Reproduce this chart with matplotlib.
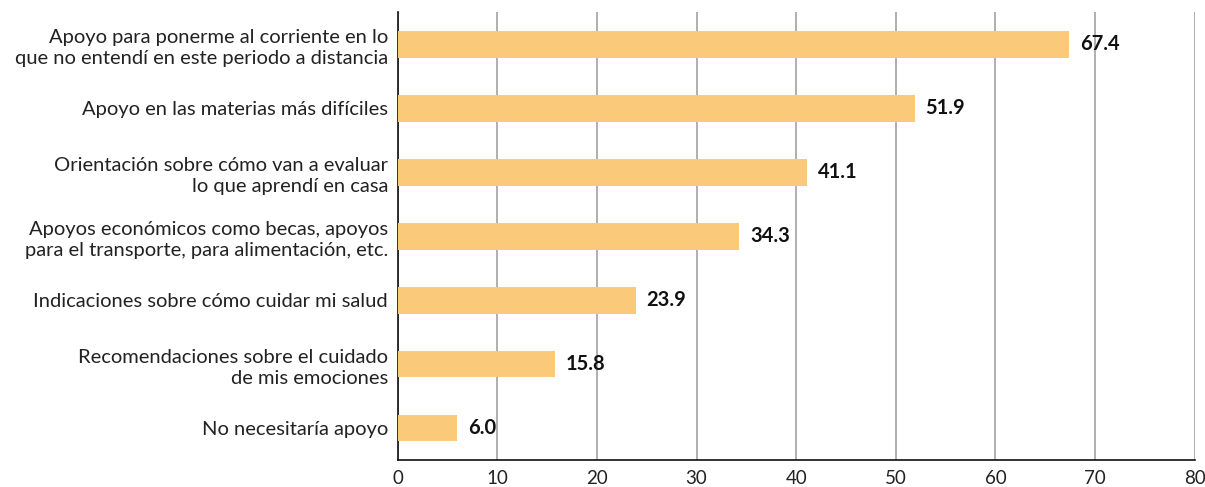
import matplotlib.pyplot as plt

categories = [
    "Apoyo para ponerme al corriente en lo\nque no entendí en este periodo a distancia",
    "Apoyo en las materias más difíciles",
    "Orientación sobre cómo van a evaluar\nlo que aprendí en casa",
    "Apoyos económicos como becas, apoyos\npara el transporte, para alimentación, etc.",
    "Indicaciones sobre cómo cuidar mi salud",
    "Recomendaciones sobre el cuidado\nde mis emociones",
    "No necesitaría apoyo",
]
values = [67.4, 51.9, 41.1, 34.3, 23.9, 15.8, 6.0]
xticks = [0, 10, 20, 30, 40, 50, 60, 70, 80]

plt.rcParams['font.family'] = ['Lato', 'DejaVu Sans']

fig = plt.figure(figsize=(12.05, 4.87), dpi=100)
ax = fig.add_axes([0.330, 0.0554, 0.6614, 0.9196])

ypos = list(range(len(categories)))
ax.barh(ypos, values, height=0.42, color='#FACA7A', zorder=3)
for y, v in zip(ypos, values):
    ax.text(v + 1.1, y, f"{v:.1f}", va='center', ha='left',
            fontsize=14.5, fontweight='bold', color='#111111', zorder=4)

ax.set_ylim(6.5, -0.5)
ax.set_xlim(0, 80)
ax.set_yticks(ypos)
ax.set_yticklabels(categories, fontsize=14.5, color='#222222', ha='right',
                   multialignment='right', linespacing=1.3)
ax.set_xticks(xticks)
ax.set_xticklabels([str(t) for t in xticks], fontsize=13.5, color='#222222')
ax.tick_params(axis='x', length=0, pad=7)
ax.tick_params(axis='y', length=0, pad=7)

ax.grid(axis='x', color='#9a9a9a', linewidth=1.1, zorder=0)
for s in ['top', 'right']:
    ax.spines[s].set_visible(False)
ax.spines['left'].set_color('#111111')
ax.spines['bottom'].set_color('#111111')
ax.spines['left'].set_linewidth(1.2)
ax.spines['bottom'].set_linewidth(1.2)

fig.savefig('out.png', dpi=100)
